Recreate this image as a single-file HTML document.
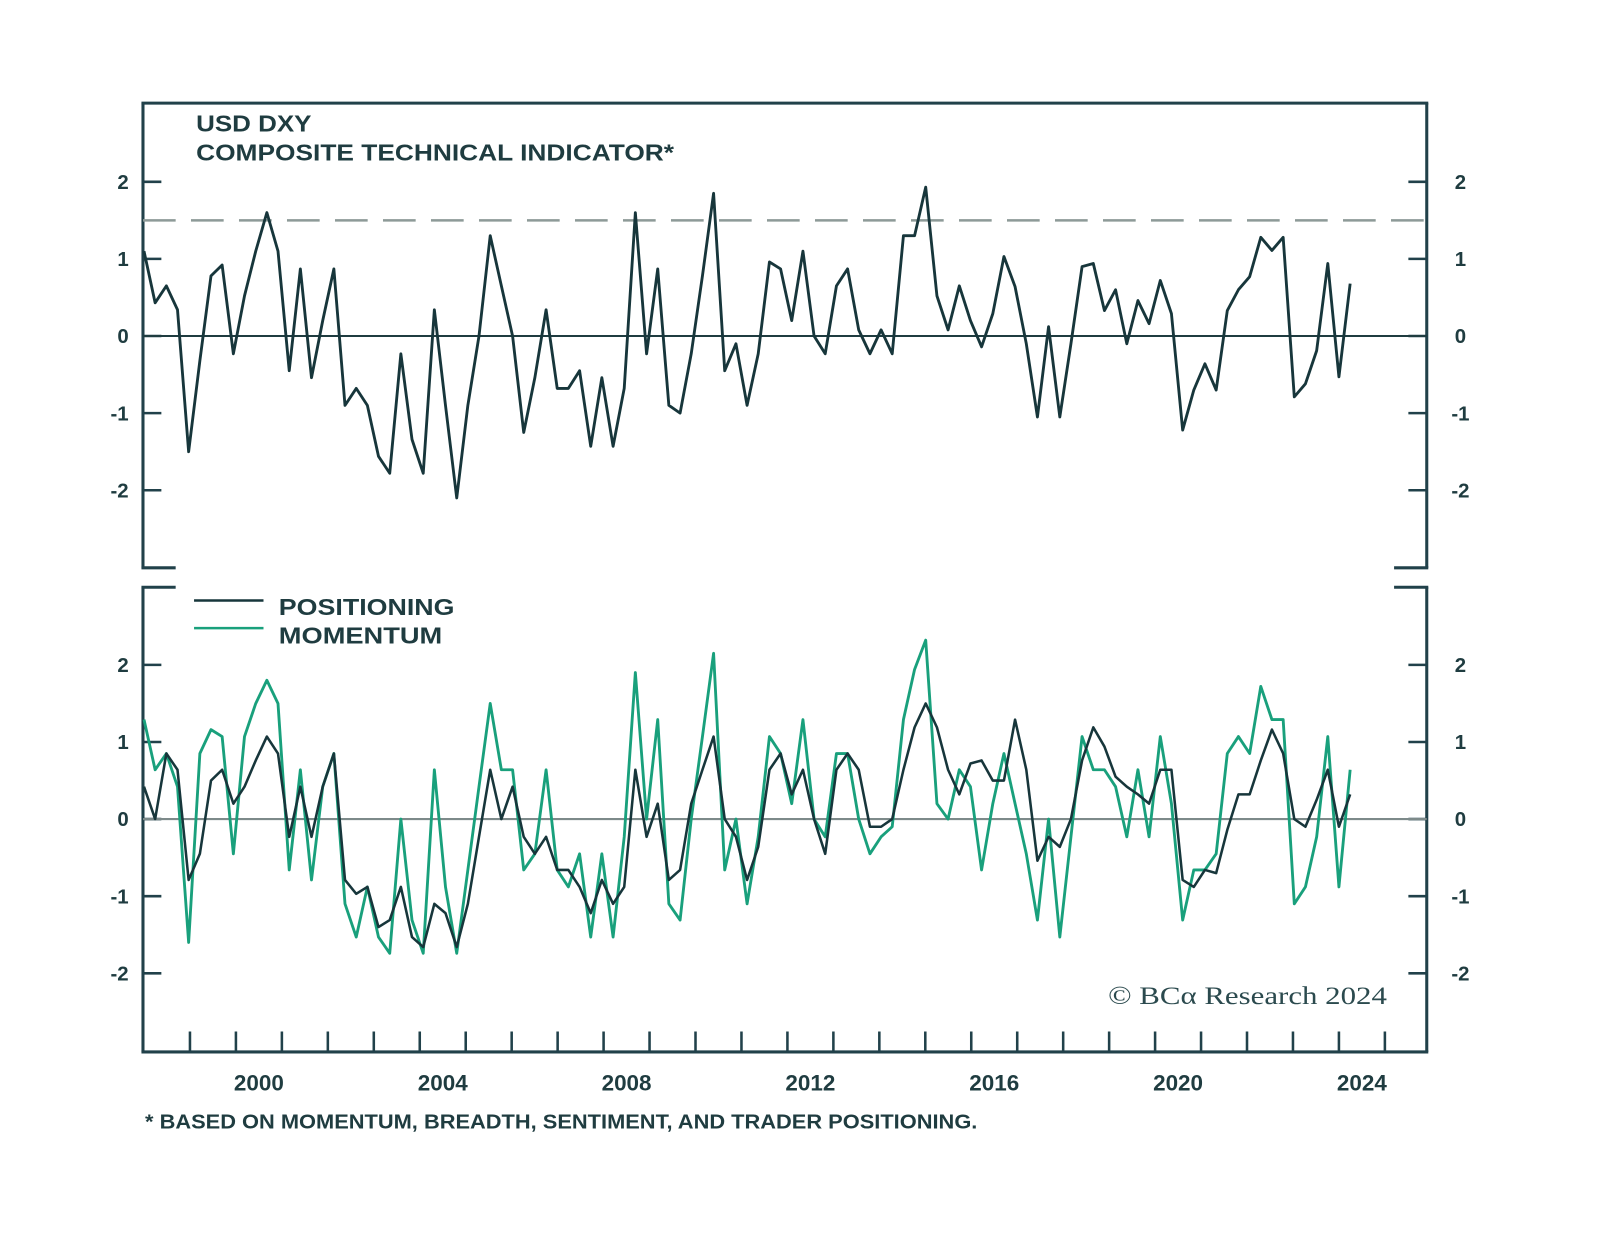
<!DOCTYPE html>
<html><head><meta charset="utf-8"><style>
html,body{margin:0;padding:0;background:#fff;}
svg{display:block;}
text{font-family:"Liberation Sans",sans-serif;font-weight:bold;fill:#1f3c40;}
</style></head><body>
<svg id="chart" width="1600" height="1258" viewBox="0 0 1600 1258" xmlns="http://www.w3.org/2000/svg">
<rect x="0" y="0" width="1600" height="1258" fill="#fff"/>
<g id="root" transform="scale(1.0213)">
<g id="axes"></g>
<g id="series"></g>
<text x="192" y="129" font-size="23" textLength="113" lengthAdjust="spacingAndGlyphs">USD DXY</text>
<text x="192" y="157" font-size="23" textLength="468" lengthAdjust="spacingAndGlyphs">COMPOSITE TECHNICAL INDICATOR*</text>
<g>
<line x1="190" y1="588" x2="258" y2="588" stroke="#17363b" stroke-width="2.5"/>
<text x="273" y="602" font-size="23" textLength="172" lengthAdjust="spacingAndGlyphs">POSITIONING</text>
<line x1="190" y1="615" x2="258" y2="615" stroke="#19a07c" stroke-width="2.5"/>
<text x="273" y="630" font-size="23" textLength="160" lengthAdjust="spacingAndGlyphs">MOMENTUM</text>
</g>
<text x="1085" y="983" font-size="25" style="font-family:'Liberation Serif',serif;font-weight:normal;fill:#2b4a4e" textLength="273" lengthAdjust="spacingAndGlyphs">© BCα Research 2024</text>
<text x="142" y="1105" font-size="20" textLength="815" lengthAdjust="spacingAndGlyphs">* BASED ON MOMENTUM, BREADTH, SENTIMENT, AND TRADER POSITIONING.</text>
</g>
</svg>
<script>
const startYear = 1998.0;
const stepYears = 0.243;
const yTicks = [-2, -1, 0, 1, 2];
const yearLabels = [2000, 2004, 2008, 2012, 2016, 2020, 2024];
const threshold = 1.5;
const composite = [1.1,0.43,0.65,0.34,-1.5,-0.32,0.78,0.92,-0.23,0.52,1.1,1.6,1.1,-0.45,0.87,-0.54,0.2,0.87,-0.9,-0.68,-0.9,-1.56,-1.78,-0.23,-1.34,-1.78,0.34,-0.9,-2.1,-0.9,0,1.3,0.65,0,-1.25,-0.54,0.34,-0.68,
-0.68,-0.45,-1.43,-0.54,-1.43,-0.68,1.6,-0.23,0.87,-0.9,-1.0,-0.23,0.78,1.85,-0.45,-0.1,-0.9,-0.23,0.96,0.87,0.2,1.1,0,-0.23,0.65,0.87,0.08,-0.23,0.08,-0.23,1.3,1.3,1.93,0.52,0.08,0.65,0.2,
-0.14,0.29,1.03,0.64,-0.1,-1.05,0.12,-1.05,-0.1,0.9,0.94,0.33,0.6,-0.1,0.46,0.16,0.72,0.29,-1.22,-0.7,-0.36,-0.7,0.33,0.6,0.77,1.28,1.11,1.28,-0.79,-0.62,-0.19,0.94,-0.53,0.68];
const positioning = [0.42,0,0.85,0.64,-0.79,-0.45,0.5,0.64,0.2,0.42,0.76,1.07,0.85,-0.23,0.42,-0.23,0.42,0.85,-0.79,-0.97,-0.88,-1.4,-1.31,-0.88,-1.53,-1.66,-1.1,-1.22,-1.66,-1.1,-0.23,0.64,0,0.42,-0.23,-0.45,-0.23,-0.66,
-0.66,-0.88,-1.22,-0.79,-1.1,-0.88,0.64,-0.23,0.2,-0.79,-0.66,0.2,0.64,1.07,0,-0.23,-0.79,-0.36,0.64,0.85,0.32,0.64,0,-0.45,0.64,0.85,0.64,-0.1,-0.1,0,0.64,1.19,1.5,1.19,0.64,0.32,0.72,
0.76,0.5,0.5,1.29,0.64,-0.54,-0.23,-0.36,0,0.76,1.19,0.94,0.55,0.42,0.32,0.2,0.64,0.64,-0.79,-0.88,-0.66,-0.7,-0.14,0.32,0.32,0.76,1.16,0.85,0,-0.1,0.25,0.64,-0.1,0.32];
const momentum = [1.29,0.64,0.85,0.42,-1.6,0.85,1.16,1.07,-0.45,1.07,1.5,1.8,1.5,-0.66,0.64,-0.79,0.42,0.85,-1.1,-1.53,-0.88,-1.53,-1.74,0,-1.31,-1.74,0.64,-0.88,-1.74,-0.66,0.42,1.5,0.64,0.64,-0.66,-0.45,0.64,-0.66,
-0.88,-0.45,-1.53,-0.45,-1.53,-0.23,1.9,0,1.29,-1.1,-1.31,0,1.07,2.15,-0.66,0,-1.1,-0.23,1.07,0.85,0.2,1.29,0,-0.23,0.85,0.85,0,-0.45,-0.23,-0.1,1.29,1.94,2.32,0.2,0,0.64,0.42,
-0.66,0.2,0.85,0.2,-0.45,-1.31,0,-1.53,-0.23,1.07,0.64,0.64,0.42,-0.23,0.64,-0.23,1.07,0.2,-1.31,-0.66,-0.66,-0.45,0.85,1.07,0.85,1.72,1.29,1.29,-1.1,-0.88,-0.23,1.07,-0.88,0.64];

const NS = 'http://www.w3.org/2000/svg';
const L = 140, R = 1397;
const topP = {t:101, b:556, zero:329};
const botP = {t:575, b:1030, zero:802};
const unit = 75.5;
const xOf = y => 231 + (y - 2000) * 45;
const yOf = (p, v) => p.zero - v * unit;
const axes = document.getElementById('axes');
const series = document.getElementById('series');
function mk(tag, attrs, parent){const e=document.createElementNS(NS,tag);for(const k in attrs)e.setAttribute(k,attrs[k]);parent.appendChild(e);return e;}
const AX = '#21414a';

function panel(p, name, showTopFull){
  const g = mk('g', {}, axes);
  
  
  mk('line',{x1:L,y1:p.t,x2:L,y2:p.b,stroke:AX,'stroke-width':3},g);
  mk('line',{x1:R,y1:p.t,x2:R,y2:p.b,stroke:AX,'stroke-width':3},g);
  if(showTopFull){mk('line',{x1:L-1.5,y1:p.t,x2:R+1.5,y2:p.t,stroke:AX,'stroke-width':3},g);}
  else{mk('line',{x1:L-1.5,y1:p.t,x2:L+32,y2:p.t,stroke:AX,'stroke-width':3},g);mk('line',{x1:R-32,y1:p.t,x2:R+1.5,y2:p.t,stroke:AX,'stroke-width':3},g);}
  yTicks.forEach(v=>{
    const y = yOf(p, v);
    mk('line',{x1:L,y1:y,x2:L+18,y2:y,stroke:AX,'stroke-width':2.5},g);
    mk('line',{x1:R-18,y1:y,x2:R,y2:y,stroke:AX,'stroke-width':2.5},g);
    const t1 = mk('text',{x:126,y:y+7,'font-size':20,'text-anchor':'end'},g); t1.textContent = String(v);
    
    
    const t2 = mk('text',{x:1430,y:y+7,'font-size':20,'text-anchor':'middle'},g); t2.textContent = String(v);
    
    
  });
  const z = mk('line',{x1:L,y1:p.zero,x2:R,y2:p.zero,stroke:name==='top-panel'?'#1f3c40':'#7d8a8a','stroke-width':2},g);
  
  
}
panel(topP, 'top-panel', true);
mk('line',{x1:L-1.5,y1:topP.b,x2:L+32,y2:topP.b,stroke:AX,'stroke-width':3},axes);
mk('line',{x1:R-32,y1:topP.b,x2:R+1.5,y2:topP.b,stroke:AX,'stroke-width':3},axes);
panel(botP, 'bottom-panel', false);
const xa = mk('line',{x1:L-1.5,y1:botP.b,x2:R+1.5,y2:botP.b,stroke:AX,'stroke-width':3},axes);


for(let yr=1999; yr<=2025; yr++){
  const x = xOf(yr);
  if(x<=L+5||x>=R-5) continue;
  const tk = mk('line',{x1:x,y1:botP.b,x2:x,y2:botP.b-20,stroke:AX,'stroke-width':2.5},axes);
  
  
}
yearLabels.forEach(yr=>{
  const t = mk('text',{x:xOf(yr+0.5),y:1068,'font-size':22,'text-anchor':'middle'},axes);
  t.textContent = String(yr);
  
  
});
const th = mk('line',{x1:L,y1:yOf(topP,threshold),x2:R,y2:yOf(topP,threshold),stroke:'#8d9a98','stroke-width':2.5,'stroke-dasharray':'32,15'},axes);



function pts(arr, p){return arr.map((v,i)=>xOf(startYear+i*stepYears).toFixed(1)+','+yOf(p,v).toFixed(1)).join(' ');}
const l1 = mk('polyline',{points:pts(composite, topP),fill:'none',stroke:'#17363b','stroke-width':2.8,'stroke-linejoin':'round'},series);


const l3 = mk('polyline',{points:pts(momentum, botP),fill:'none',stroke:'#19a07c','stroke-width':2.8,'stroke-linejoin':'round'},series);


const l2 = mk('polyline',{points:pts(positioning, botP),fill:'none',stroke:'#17363b','stroke-width':2.5,'stroke-linejoin':'round'},series);


</script>
</body></html>
